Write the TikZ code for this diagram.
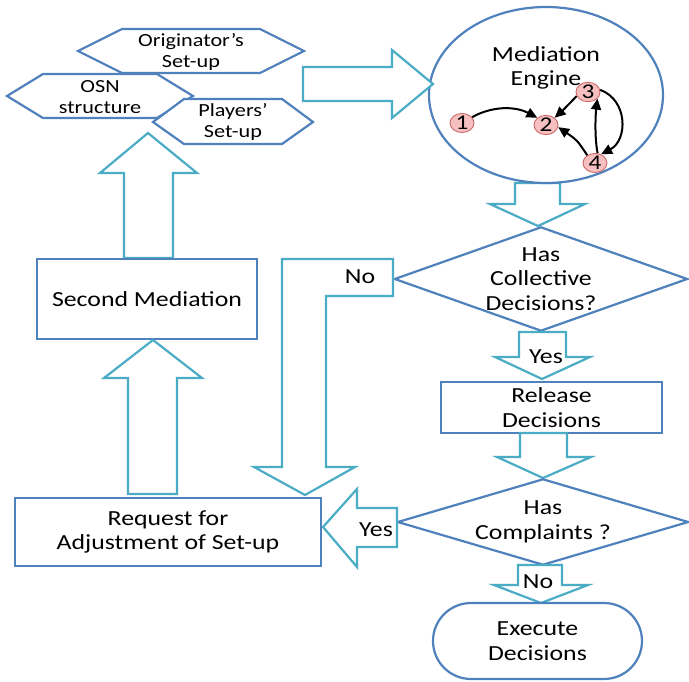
\documentclass[tikz,border=0pt]{standalone}
\usepackage{fontspec}
\setmainfont{Carlito}[FakeStretch=1.2]
\usetikzlibrary{shapes.geometric,arrows.meta}
\definecolor{bord}{RGB}{79,129,189}
\definecolor{aqua}{RGB}{75,172,198}
\definecolor{pinkf}{RGB}{246,192,192}
\definecolor{pinkd}{RGB}{205,105,105}
\tikzset{
  txt/.style={align=center, inner sep=0pt, font=\fontsize{21.5}{24.5}\selectfont},
  hextxt/.style={align=center, inner sep=0pt, font=\fontsize{18.5}{21}\selectfont},
  shp/.style={draw=bord, line width=2.2pt, fill=white, line join=miter},
  shpline/.style={draw=bord, line width=2.2pt, line join=miter},
  blk/.style={draw=aqua, line width=2.2pt, fill=white, line join=miter},
  num/.style={ellipse, draw=pinkd, fill=pinkf, line width=0.9pt, minimum width=24pt,
    minimum height=19pt, inner sep=0pt, font=\fontsize{21}{21}\selectfont},
  earr/.style={draw=black, line width=2pt, -{Triangle[length=11pt,width=10pt]}},
}
\begin{document}
\begin{tikzpicture}[x=1pt,y=-1pt]
\useasboundingbox[fill=white] (0,0) rectangle (689,682);

% hexagons
\draw[shp] (78,51)--(122,29)--(260,29)--(304,51)--(260,73)--(122,73)--cycle;
\node[hextxt] (orig) at (191,52) {Originator’s\\Set-up};
\draw[shp] (7,96)--(43,74)--(157,74)--(193,96)--(157,118)--(43,118)--cycle;
\node[hextxt] (osn) at (100,97) {OSN\\structure};
\draw[shp] (153,122)--(184,99)--(282,99)--(313,122)--(282,144)--(184,144)--cycle;
\node[hextxt] (play) at (233,122) {Players’\\Set-up};

% down arrow below engine
\draw[blk] (515,183)--(560,183)--(560,204)--(585,204)--(538,226)--(490,204)--(515,204)--cycle;

% mediation engine
\node[ellipse, shp, minimum width=234pt, minimum height=176pt, inner sep=0pt] (eng) at (546,95) {};
\node[txt] (engt) at (546,68) {Mediation\\Engine};
\node[num] (n1) at (462,123) {1};
\node[num] (n2) at (546,125) {2};
\node[num] (n3) at (588,92) {3};
\node[num] (n4) at (595,163) {4};
\draw[earr] (n1.30) .. controls (492,106) and (515,106) .. (n2.140);
\draw[earr] (n3.200) .. controls (570,104) .. (n2.40);
\draw[earr] (n4.135) .. controls (577,140) .. (n2.-10);
\draw[earr] (n4.75) .. controls (594,135) and (596,110) .. (n3.-35);
\draw[earr] (n3.10) .. controls (628,100) and (628,140) .. (n4.55);

% right arrow into engine
\draw[blk] (303,67)--(392,67)--(392,50)--(433,84)--(392,118)--(392,101)--(303,101)--cycle;

% left column
\draw[blk] (124,258)--(173,258)--(173,173)--(197,173)--(148,133)--(100,173)--(124,173)--cycle;
\node[shp, txt, minimum width=220pt, minimum height=80pt] (sm) at (147,299) {Second Mediation};
\draw[blk] (128,494)--(177,494)--(177,378)--(202,378)--(153,340)--(104,378)--(128,378)--cycle;
\node[shp, txt, minimum width=306pt, minimum height=68pt] (req) at (168,532) {Request for\\Adjustment of Set-up};

% decision 1
\node[txt, minimum width=292pt, minimum height=103pt] (d1) at (541,279) {Has\\Collective\\Decisions?};
\draw[shpline] (d1.west)--(d1.north)--(d1.east)--(d1.south)--cycle;

% No L-arrow
\draw[blk] (282,259)--(393,259)--(393,296)--(326,296)--(326,467)--(355,467)--(305,495)--(254,467)--(282,467)--cycle;
\node[txt] (no1) at (360,277) {No};

% Yes arrow down
\draw[blk] (519,332)--(566,332)--(566,357)--(590,357)--(542,379)--(495,357)--(519,357)--cycle;
\node[txt] (yes1) at (546,357) {Yes};

% release
\node[shp, txt, minimum width=221pt, minimum height=51pt] (rel) at (551.5,407.5) {Release\\Decisions};
\draw[blk] (520,433)--(567,433)--(567,457)--(591,457)--(543,478)--(497,457)--(520,457)--cycle;

% decision 2
\node[txt, minimum width=290pt, minimum height=85pt] (d2) at (543,522) {Has\\Complaints ?};
\draw[shpline] (d2.west)--(d2.north)--(d2.east)--(d2.south)--cycle;

% Yes arrow left
\draw[blk] (397,508)--(357,508)--(357,489)--(323,527)--(357,567)--(357,547)--(397,547)--cycle;
\node[txt] (yes2) at (376,530) {Yes};

% No arrow down
\draw[blk] (518,565)--(562,565)--(562,585)--(588,585)--(541,603)--(494,585)--(518,585)--cycle;
\node[txt] (no2) at (538,582) {No};

% execute
\node[shp, txt, rounded corners=38pt, minimum width=209pt, minimum height=76pt] (exe) at (537.5,641) {Execute\\Decisions};
\end{tikzpicture}
\end{document}
